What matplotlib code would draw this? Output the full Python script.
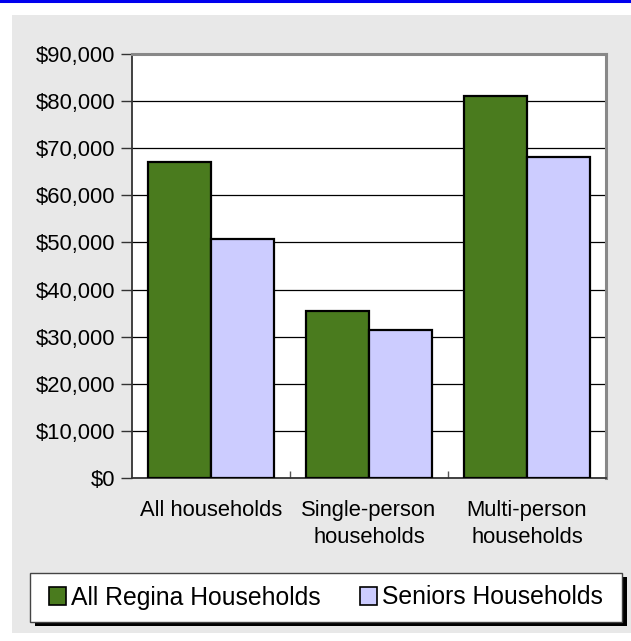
import matplotlib
matplotlib.use("Agg")
import matplotlib.pyplot as plt
from matplotlib.patches import Rectangle
from matplotlib.lines import Line2D
from matplotlib.ticker import FuncFormatter, FixedLocator
import numpy as np

plt.rcParams['font.family'] = ['Liberation Sans', 'DejaVu Sans']

categories = ["All households", "Single-person\nhouseholds", "Multi-person\nhouseholds"]
series_names = ["All Regina Households", "Seniors Households"]
all_regina = [67100, 35500, 81000]
seniors = [50700, 31500, 68100]
y_ticks = [0, 10000, 20000, 30000, 40000, 50000, 60000, 70000, 80000, 90000]

green = "#4A7B1E"
lavender = "#CCCCFF"
panel_grey = "#E8E8E8"

W, H = 631, 641
fig = plt.figure(figsize=(W / 100, H / 100), dpi=100)
fig.patch.set_facecolor("white")

# grey chart panel and blue rule along the top
fig.patches.append(Rectangle((12 / W, 1 - 633 / H), 1 - 12 / W, (633 - 15) / H,
                             transform=fig.transFigure, facecolor=panel_grey,
                             edgecolor="none", zorder=-5))
fig.lines.append(Line2D([0, 1], [1 - 1 / H, 1 - 1 / H], transform=fig.transFigure,
                        color="#0000EE", linewidth=2.2, zorder=-4))

ax = fig.add_axes([132 / W, 1 - 478 / H, (606 - 132) / W, (478 - 54) / H])
ax.set_zorder(2)
ax.set_facecolor("white")

x = np.arange(len(categories))
bw = 0.4
ax.bar(x - bw / 2, all_regina, width=bw, color=green, edgecolor="black",
       linewidth=1.6, zorder=3, label=series_names[0])
ax.bar(x + bw / 2, seniors, width=bw, color=lavender, edgecolor="black",
       linewidth=1.6, zorder=3, label=series_names[1])

ax.set_xlim(-0.5, len(categories) - 0.5)
ax.set_ylim(0, 90000)
ax.set_yticks(y_ticks)
ax.yaxis.set_major_formatter(FuncFormatter(lambda v, p: f"${v:,.0f}"))
ax.grid(axis="y", color="black", linewidth=0.9, zorder=1)
ax.set_axisbelow(True)

ax.set_xticks(x)
ax.set_xticklabels(categories, fontsize=15.8, linespacing=1.35)
ax.xaxis.set_minor_locator(FixedLocator([0.5, 1.5]))
ax.tick_params(axis="x", which="major", length=0, pad=16)
ax.tick_params(axis="x", which="minor", direction="in", length=5, color="#555555", width=1)
ax.tick_params(axis="y", direction="out", length=8, width=1, color="#333333",
               labelsize=15.8, pad=4)

for side in ("left", "bottom"):
    ax.spines[side].set_color("#333333")
    ax.spines[side].set_linewidth(1.3)
for side in ("top", "right"):
    ax.spines[side].set_color("#888888")
    ax.spines[side].set_linewidth(2.2)

# legend box with drop shadow
lx0, lx1, ly0, ly1 = 30, 622, 573, 622
fig.patches.append(Rectangle(((lx0 + 5) / W, 1 - (ly1 + 4) / H), (lx1 - lx0) / W, (ly1 - ly0) / H,
                             transform=fig.transFigure, facecolor="black",
                             edgecolor="none", zorder=2))
fig.patches.append(Rectangle((lx0 / W, 1 - ly1 / H), (lx1 - lx0) / W, (ly1 - ly0) / H,
                             transform=fig.transFigure, facecolor="white",
                             edgecolor="#444444", linewidth=1.0, zorder=3))
handles = [Rectangle((0, 0), 1, 1, facecolor=green, edgecolor="black", linewidth=1.2),
           Rectangle((0, 0), 1, 1, facecolor=lavender, edgecolor="black", linewidth=1.2)]
leg = fig.legend(handles, series_names, loc="center",
                 bbox_to_anchor=((lx0 + lx1) / 2 / W, 1 - (ly0 + ly1) / 2 / H),
                 ncol=2, frameon=False, fontsize=17.8, handlelength=0.7,
                 handleheight=0.7, handletextpad=0.2, columnspacing=1.6)
leg.set_zorder(4)

fig.savefig("out.png", dpi=100)
